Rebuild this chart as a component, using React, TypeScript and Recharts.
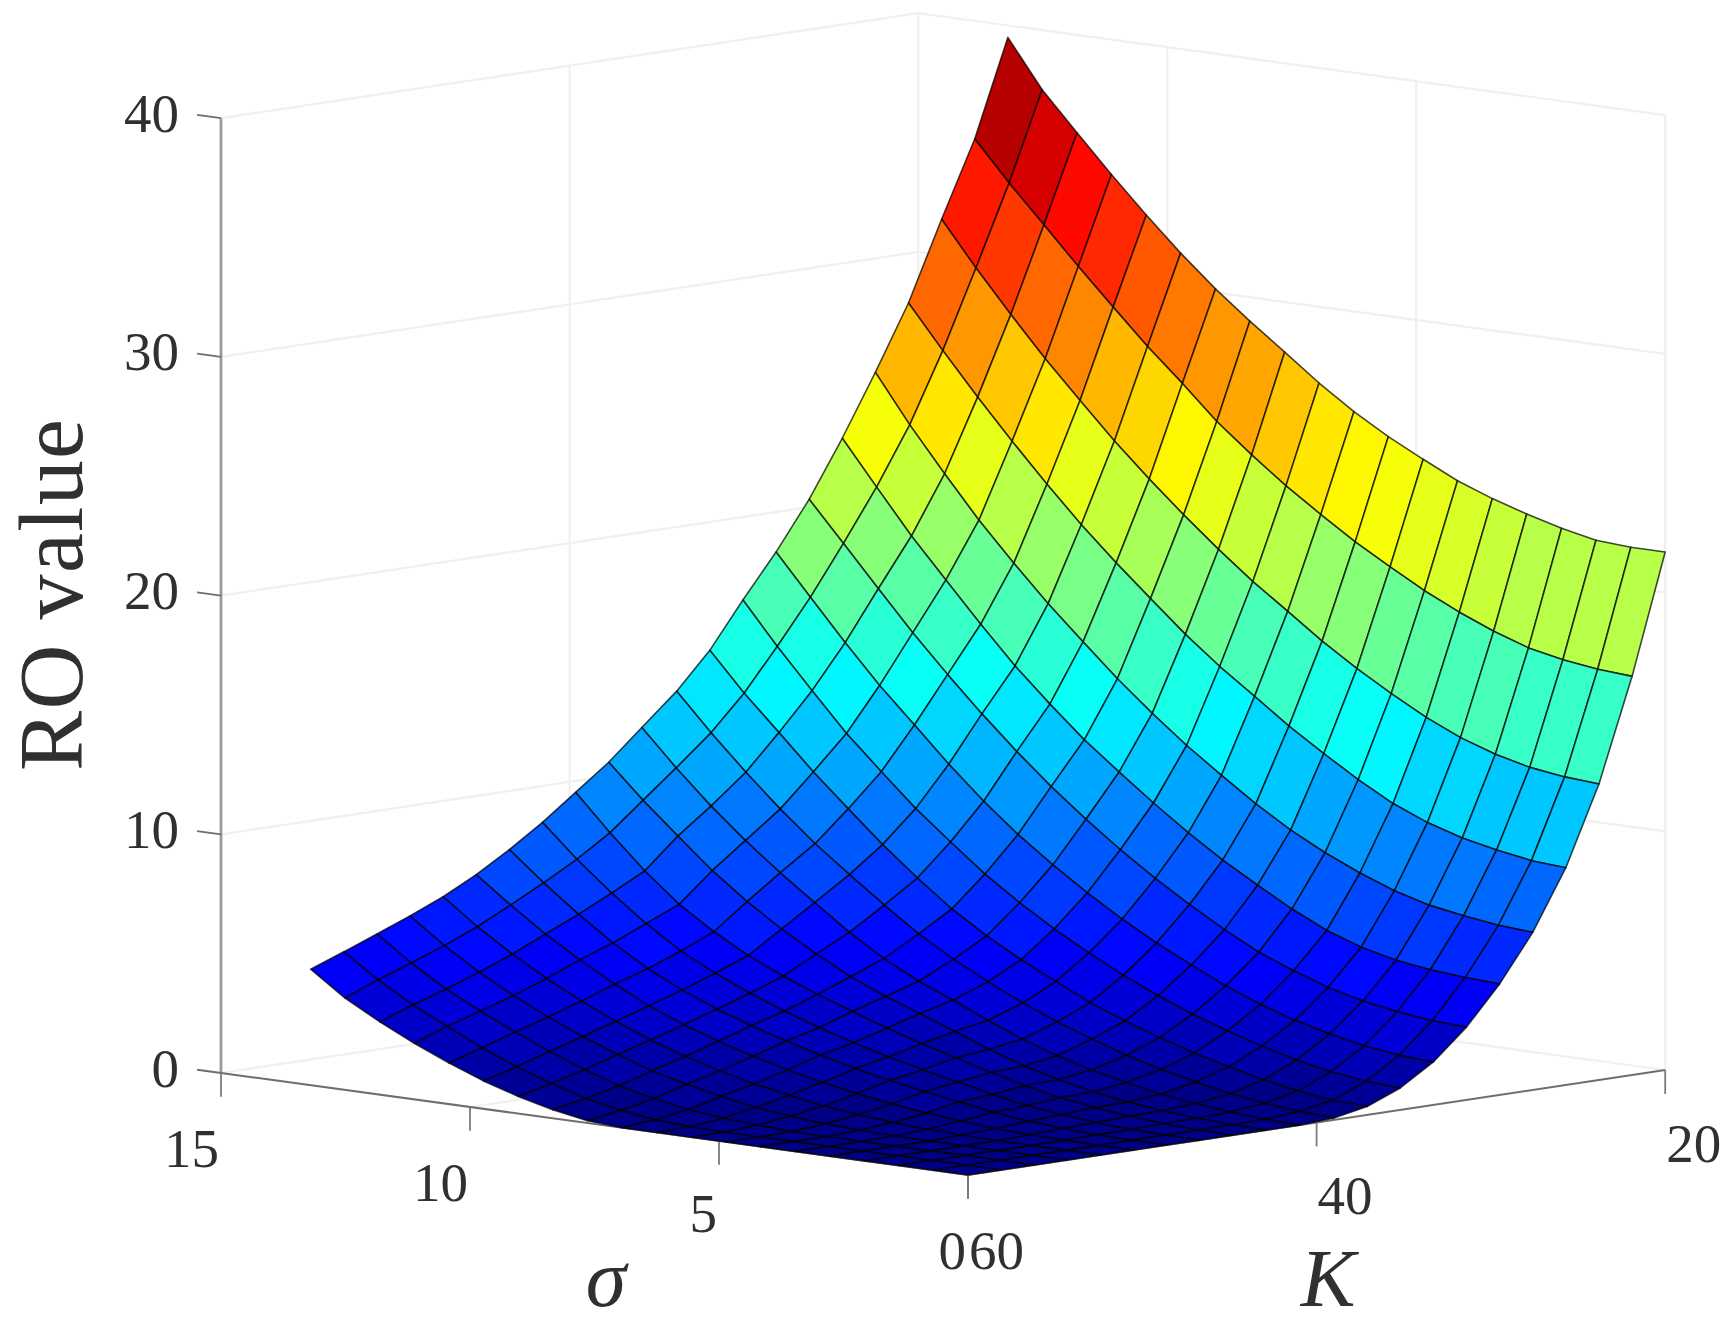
import { ScatterChart, Scatter, XAxis, YAxis } from 'recharts'

const strikeValues = [60, 58.1, 56.2, 54.3, 52.4, 50.5, 48.6, 46.7, 44.8, 42.9, 41, 39, 37.1, 35.2, 33.3, 31.4, 29.5, 27.6, 25.7, 23.8, 21.9, 20]
const sigmaValues = [0, 0.69, 1.39, 2.08, 2.78, 3.47, 4.17, 4.86, 5.56, 6.25, 6.95, 7.64, 8.34, 9.03, 9.73, 10.42, 11.12, 11.81, 12.51, 13.2]

// one row per strike, one column per sigma
const roValues = [
  [0, 0, 0, 0, 0, 0, 0, 0, 0, 0, 0, 0.1, 0.36, 0.72, 1.17, 1.72, 2.35, 3.05, 3.85, 4.86],
  [0, 0, 0, 0, 0, 0, 0, 0, 0, 0.03, 0.12, 0.32, 0.62, 1.05, 1.55, 2.15, 2.85, 3.55, 4.4, 5.38],
  [0, 0, 0, 0, 0, 0, 0, 0.02, 0.08, 0.18, 0.35, 0.6, 0.95, 1.42, 1.98, 2.6, 3.28, 4, 4.9, 5.92],
  [0, 0, 0, 0, 0, 0.02, 0.06, 0.13, 0.25, 0.42, 0.68, 1, 1.35, 1.85, 2.4, 3.02, 3.72, 4.5, 5.42, 6.47],
  [0, 0, 0, 0.01, 0.04, 0.09, 0.18, 0.3, 0.47, 0.72, 1, 1.35, 1.75, 2.25, 2.82, 3.48, 4.22, 5.05, 6, 7.06],
  [0, 0, 0.01, 0.04, 0.1, 0.22, 0.36, 0.55, 0.78, 1.05, 1.38, 1.75, 2.18, 2.68, 3.27, 3.98, 4.8, 5.68, 6.7, 7.78],
  [0, 0, 0.03, 0.1, 0.2, 0.38, 0.62, 0.85, 1.12, 1.42, 1.78, 2.18, 2.62, 3.12, 3.72, 4.42, 5.3, 6.3, 7.42, 8.62],
  [0, 0.01, 0.05, 0.14, 0.27, 0.45, 0.72, 1.05, 1.36, 1.7, 2.1, 2.53, 3.02, 3.58, 4.22, 4.95, 5.9, 6.98, 8.2, 9.55],
  [0, 0.02, 0.08, 0.2, 0.36, 0.58, 0.88, 1.24, 1.65, 2.05, 2.5, 3, 3.52, 4.08, 4.75, 5.55, 6.5, 7.7, 9.1, 10.6],
  [0, 0.03, 0.1, 0.22, 0.38, 0.62, 0.92, 1.3, 1.8, 2.35, 2.9, 3.42, 4.05, 4.8, 5.65, 6.6, 7.7, 8.95, 10.25, 11.65],
  [0, 0.05, 0.15, 0.3, 0.5, 0.8, 1.12, 1.52, 2.02, 2.6, 3.25, 3.85, 4.6, 5.5, 6.55, 7.6, 8.75, 10, 11.4, 12.9],
  [0.08, 0.15, 0.3, 0.5, 0.8, 1.12, 1.52, 2, 2.52, 3.12, 3.8, 4.55, 5.42, 6.42, 7.5, 8.6, 9.85, 11.2, 12.65, 14.2],
  [0.35, 0.42, 0.6, 0.88, 1.22, 1.6, 2.05, 2.55, 3.12, 3.8, 4.52, 5.32, 6.25, 7.35, 8.55, 9.85, 11.2, 12.65, 14.1, 15.7],
  [0.92, 1, 1.2, 1.5, 1.88, 2.32, 2.82, 3.4, 4.05, 4.8, 5.6, 6.5, 7.5, 8.65, 9.85, 11.2, 12.6, 14.2, 15.85, 17.6],
  [1.8, 1.88, 2.08, 2.38, 2.75, 3.22, 3.8, 4.48, 5.2, 6, 6.9, 7.88, 8.95, 10.15, 11.5, 12.95, 14.4, 16, 17.7, 19.4],
  [3.05, 3.12, 3.3, 3.55, 3.92, 4.42, 5, 5.75, 6.6, 7.5, 8.5, 9.58, 10.75, 12.02, 13.4, 14.85, 16.4, 18.05, 19.75, 21.4],
  [4.65, 4.72, 4.85, 5.05, 5.4, 5.9, 6.6, 7.4, 8.25, 9.2, 10.25, 11.35, 12.5, 13.8, 15.2, 16.75, 18.4, 20.05, 21.9, 23.75],
  [6.6, 6.7, 6.9, 7.15, 7.55, 8.1, 8.75, 9.5, 10.4, 11.4, 12.45, 13.6, 14.85, 16.2, 17.6, 19.1, 20.7, 22.45, 24.3, 26.3],
  [9.1, 9.2, 9.45, 9.75, 10.2, 10.8, 11.6, 12.5, 13.45, 14.5, 15.55, 16.7, 18, 19.3, 20.7, 22.2, 23.8, 25.45, 27.2, 29],
  [12.4, 12.5, 12.7, 13.05, 13.55, 14.2, 15, 15.85, 16.8, 17.85, 18.9, 20.05, 21.3, 22.6, 24, 25.5, 27.05, 28.7, 30.45, 32.3],
  [16.7, 16.8, 17, 17.3, 17.8, 18.4, 19.1, 19.9, 20.75, 21.7, 22.7, 23.8, 25, 26.4, 27.75, 29.2, 30.7, 32.25, 33.8, 35.45],
  [21.7, 21.7, 21.8, 22.1, 22.5, 22.95, 23.5, 24.2, 24.95, 25.8, 26.8, 27.9, 29, 30.15, 31.45, 32.85, 34.35, 35.9, 37.5, 39.5],
]

const zTicks = [0, 10, 20, 30, 40]
const sigmaTicks = [15, 10, 5, 0]
const strikeTicks = [60, 40, 20]

const WIDTH = 1735
const HEIGHT = 1325
const SERIF = '"Liberation Serif", "DejaVu Serif", serif'
const TEXT = '#303030'

// orthographic view of the 3d box onto the page
const project = (sigma: number, strike: number, z: number) => ({
  x: 968 - 49.8 * sigma + 17.43 * (60 - strike),
  y: 1175 - 6.8 * sigma - 2.625 * (60 - strike) - 23.87 * z,
})

const jet = (value: number) => {
  const level = (Math.min(63, Math.floor(value * 64)) + 0.5) / 64
  const part = (c: number) => Math.round(255 * Math.max(0, Math.min(1, 1.5 - Math.abs(4 * level - c))))
  return `rgb(${part(3)},${part(2)},${part(1)})`
}

const pathOf = (points: { x: number; y: number }[], closed = false) =>
  points.map((p, i) => `${i ? 'L' : 'M'}${p.x} ${p.y}`).join('') + (closed ? 'Z' : '')

const noDot = () => <g />

// back walls and floor of the box
const wallLines = [
  ...zTicks.flatMap(z => [
    [project(15, 60, z), project(15, 20, z)],
    [project(15, 20, z), project(0, 20, z)],
  ]),
  [project(15, 40, 0), project(15, 40, 40)],
  [project(15, 20, 0), project(15, 20, 40)],
  [project(10, 20, 0), project(10, 20, 40)],
  [project(5, 20, 0), project(5, 20, 40)],
  [project(0, 20, 0), project(0, 20, 40)],
  [project(10, 60, 0), project(10, 20, 0)],
  [project(5, 60, 0), project(5, 20, 0)],
  [project(0, 40, 0), project(15, 40, 0)],
]

const axisLines = [
  { points: [project(15, 60, 0), project(15, 60, 40)], color: '#9a9a9a', size: 2.8 },
  { points: [project(15, 60, 0), project(0, 60, 0)], color: '#6e6e6e', size: 2 },
  { points: [project(0, 60, 0), project(0, 20, 0)], color: '#6e6e6e', size: 2 },
  ...zTicks.map(z => ({ points: [project(15, 60, z), project(15.48, 60, z)], color: '#6e6e6e', size: 1.8 })),
  ...sigmaTicks.map(s => ({ points: [project(s, 60, 0), project(s, 60, -1)], color: '#7a7a7a', size: 1.8 })),
  ...strikeTicks.map(k => ({ points: [project(0, k, 0), project(0, k, -1)], color: '#7a7a7a', size: 1.8 })),
]

// far cells first so nearer ones paint over them
const cells = strikeValues.slice(0, -1).flatMap((_, i) =>
  sigmaValues.slice(0, -1).map((_, j) => ({
    key: `${i}-${j}`,
    color: jet(roValues[i + 1][j] / 39.5),
    points: [
      project(sigmaValues[j], strikeValues[i], roValues[i][j]),
      project(sigmaValues[j], strikeValues[i + 1], roValues[i + 1][j]),
      project(sigmaValues[j + 1], strikeValues[i + 1], roValues[i + 1][j + 1]),
      project(sigmaValues[j + 1], strikeValues[i], roValues[i][j + 1]),
    ],
  })),
).reverse()

const tickLabels = [
  ...zTicks.map(z => {
    const p = project(15, 60, z)
    return { text: String(z), x: p.x - 42, y: p.y - 5, anchor: 'end' }
  }),
  ...sigmaTicks.map(s => {
    const p = project(s, 60, 0)
    return { text: String(s), x: p.x - 2, y: p.y + (s === 5 ? 72 : 75), anchor: 'end' }
  }),
  ...strikeTicks.map(k => {
    const p = project(0, k, 0)
    return { text: String(k), x: p.x + 1, y: p.y + (k === 60 ? 75 : 73), anchor: 'start' }
  }),
]

const TickText = ({ cx, cy, payload }: any) => (
  <text x={cx} y={cy} textAnchor={payload.anchor} dominantBaseline="central" fontFamily={SERIF} fontSize={55} fill={TEXT}>
    {payload.text}
  </text>
)

const axisTitles = [
  { text: 'σ', x: 606, y: 1306 },
  { text: 'K', x: 1328, y: 1306 },
]

const TitleText = ({ cx, cy, payload }: any) => (
  <text x={cx} y={cy} textAnchor="middle" fontFamily={SERIF} fontStyle="italic" fontSize={82} fill={TEXT}>
    {payload.text}
  </text>
)

const zTitle = [{ text: 'RO value', x: 51, y: 595 }]

const ZTitleText = ({ cx, cy, payload }: any) => (
  <text
    x={cx}
    y={cy}
    transform={`rotate(-90 ${cx} ${cy})`}
    textAnchor="middle"
    dominantBaseline="central"
    fontFamily={SERIF}
    fontSize={90}
    textLength={352}
    fill={TEXT}
  >
    {payload.text}
  </text>
)

export default function App() {
  return (
    <div style={{ position: 'absolute', left: 0, top: 0, width: WIDTH, height: HEIGHT, background: '#fff', filter: 'blur(0.7px)' }}>
      <ScatterChart width={WIDTH} height={HEIGHT} margin={{ top: 0, right: 0, bottom: 0, left: 0 }}>
        <XAxis type="number" dataKey="x" domain={[0, WIDTH]} hide />
        <YAxis type="number" dataKey="y" domain={[0, HEIGHT]} reversed hide />

        {wallLines.map((points, i) => (
          <Scatter
            key={`wall-${i}`}
            data={points}
            isAnimationActive={false}
            shape={noDot}
            line={(p: any) => <path d={pathOf(p.points)} fill="none" stroke="#f0f0f0" strokeWidth={2.2} />}
          />
        ))}

        {axisLines.map((a, i) => (
          <Scatter
            key={`axis-${i}`}
            data={a.points}
            isAnimationActive={false}
            shape={noDot}
            line={(p: any) => <path d={pathOf(p.points)} fill="none" stroke={a.color} strokeWidth={a.size} />}
          />
        ))}

        {cells.map(c => (
          <Scatter
            key={c.key}
            data={c.points}
            isAnimationActive={false}
            shape={noDot}
            line={(p: any) => (
              <path
                d={pathOf(p.points, true)}
                fill={c.color}
                stroke="#000"
                strokeOpacity={0.72}
                strokeWidth={1.6}
                strokeLinejoin="round"
              />
            )}
          />
        ))}

        <Scatter data={tickLabels} isAnimationActive={false} shape={TickText} />
        <Scatter data={axisTitles} isAnimationActive={false} shape={TitleText} />
        <Scatter data={zTitle} isAnimationActive={false} shape={ZTitleText} />
      </ScatterChart>
    </div>
  )
}
